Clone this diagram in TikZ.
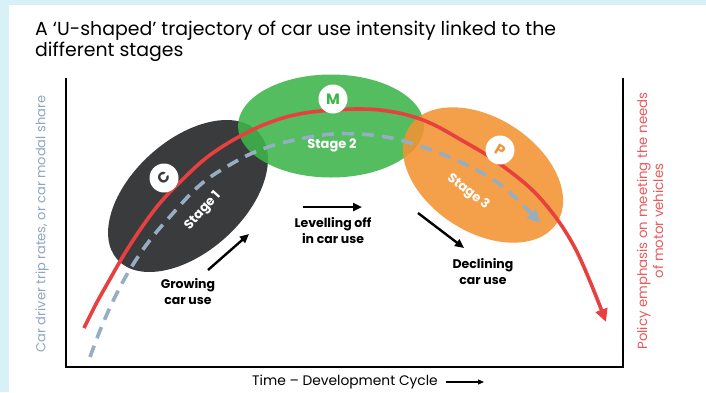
\documentclass[tikz,border=0pt]{standalone}
\usepackage{fontspec}
\setmainfont{Poppins}
\usetikzlibrary{shapes.geometric,arrows.meta}
\definecolor{bgblue}{HTML}{D8F0F8}
\definecolor{darkgrey}{HTML}{3A3B3D}
\definecolor{sgreen}{HTML}{3DB54A}
\definecolor{sorange}{HTML}{F39232}
\definecolor{cred}{HTML}{E8403E}
\definecolor{cblue}{HTML}{96AEC4}
\definecolor{axisblue}{HTML}{8EA7C0}
\definecolor{axisred}{HTML}{EA5A5C}
\begin{document}
\begin{tikzpicture}[x=1pt,y=-1pt,
  stageell/.style={ellipse, draw=none, inner sep=0pt},
  badge/.style={circle, fill=white, minimum size=29pt, inner sep=0pt, font=\fontsize{15}{15}\selectfont\bfseries},
  stagetxt/.style={text=white, font=\fontsize{13}{15}\selectfont\bfseries, inner sep=0pt},
  lbl/.style={align=center, font=\fontsize{12.5}{16}\selectfont\bfseries, inner sep=0pt},
  trendarrow/.style={line width=2.4pt, -{Triangle[length=9pt,width=8pt]}},
  axisline/.style={line width=1.3pt, black},
  redcurve/.style={cred, line width=3.6pt},
  bluecurve/.style={cblue, line width=3.6pt, dash pattern=on 12pt off 8pt}
]
\fill[bgblue] (0,0) rectangle (706,392);
\fill[white] (9,5) rectangle (706,392);
\useasboundingbox (0,0) rectangle (706,392);

% title
\node[anchor=north west, align=left, inner sep=0pt, font=\fontsize{18.9}{20.5}\selectfont] (title) at (35,21)
  {A ‘U-shaped’ trajectory of car use intensity linked to the\\different stages};

% axes
\coordinate (tl) at (66,78);
\coordinate (bl) at (66,367);
\coordinate (br) at (623,367);
\coordinate (tr) at (623,78);
\draw[axisline] (tl) -- (bl) -- (br) -- (tr);

% ellipses
\node[stageell, fill=darkgrey, minimum width=190pt, minimum height=112pt, rotate=42] (e1) at (188,196) {};
\node[stageell, fill=sgreen, fill opacity=0.88, minimum width=186pt, minimum height=103pt] (e2) at (331,126) {};
\node[stageell, fill=sorange, fill opacity=0.88, minimum width=176pt, minimum height=114pt, rotate=-33] (e3) at (483,175) {};

% curves
\draw[bluecurve, -{Triangle[length=13pt,width=12pt]}] plot[smooth, tension=0.6] coordinates
  {(90,357) (101,328) (114,299) (129,271) (147,244) (167,220) (200,185) (233,163) (260,150) (290,141) (333,134) (380,136) (423,147) (473,168) (507,190) (540,223)};
\draw[redcurve, -{Triangle[length=13pt,width=12pt]}] plot[smooth, tension=0.6] coordinates
  {(84,328) (96,304) (110,279) (125,253) (142,227) (160,203) (180,182) (210,155) (250,131) (290,116) (333,110) (380,110) (423,120) (463,141) (500,164) (540,198) (575,248) (606,322)};

% badges
\node[badge] (bc) at (164,178) {\textcolor{darkgrey}{\rotatebox{45}{C}}};
\node[badge] (bm) at (333,99) {\textcolor{sgreen}{M}};
\node[badge] (bp) at (500,150) {\textcolor{sorange}{\rotatebox{-30}{P}}};

% stage labels
\node[stagetxt, rotate=48] (s1) at (203,211) {Stage 1};
\node[stagetxt] (s2) at (332,145) {Stage 2};
\node[stagetxt, rotate=-38] (s3) at (468,192) {Stage 3};

% trend arrows
\coordinate (g1) at (208,270); \coordinate (g2) at (249,234);
\coordinate (l1) at (303,207); \coordinate (l2) at (362,207);
\coordinate (d1) at (418,213); \coordinate (d2) at (464,248);
\draw[trendarrow] (g1) -- (g2);
\draw[trendarrow] (l1) -- (l2);
\draw[trendarrow] (d1) -- (d2);

\node[lbl] (growing) at (188,292) {Growing\\car use};
\node[lbl] (levelling) at (333,231) {Levelling off\\in car use};
\node[lbl] (declining) at (483,272) {Declining\\car use};

% axis labels
\node[rotate=90, text=axisblue, font=\fontsize{13}{15}\selectfont, inner sep=0pt] (ylab) at (42,224) {Car driver trip rates, or car modal share};
\node[rotate=90, text=axisred, align=center, font=\fontsize{13.3}{16}\selectfont, inner sep=0pt] (rlab) at (650,221) {Policy emphasis on meeting the needs\\of motor vehicles};
\node[font=\fontsize{13.8}{16}\selectfont, inner sep=0pt, anchor=west] (xlab) at (252,382) {Time – Development Cycle};
\coordinate (xa1) at (446,382); \coordinate (xa2) at (484,382);
\draw[line width=1.1pt, -{Triangle[length=6pt,width=5pt]}] (xa1) -- (xa2);
\end{tikzpicture}
\end{document}
